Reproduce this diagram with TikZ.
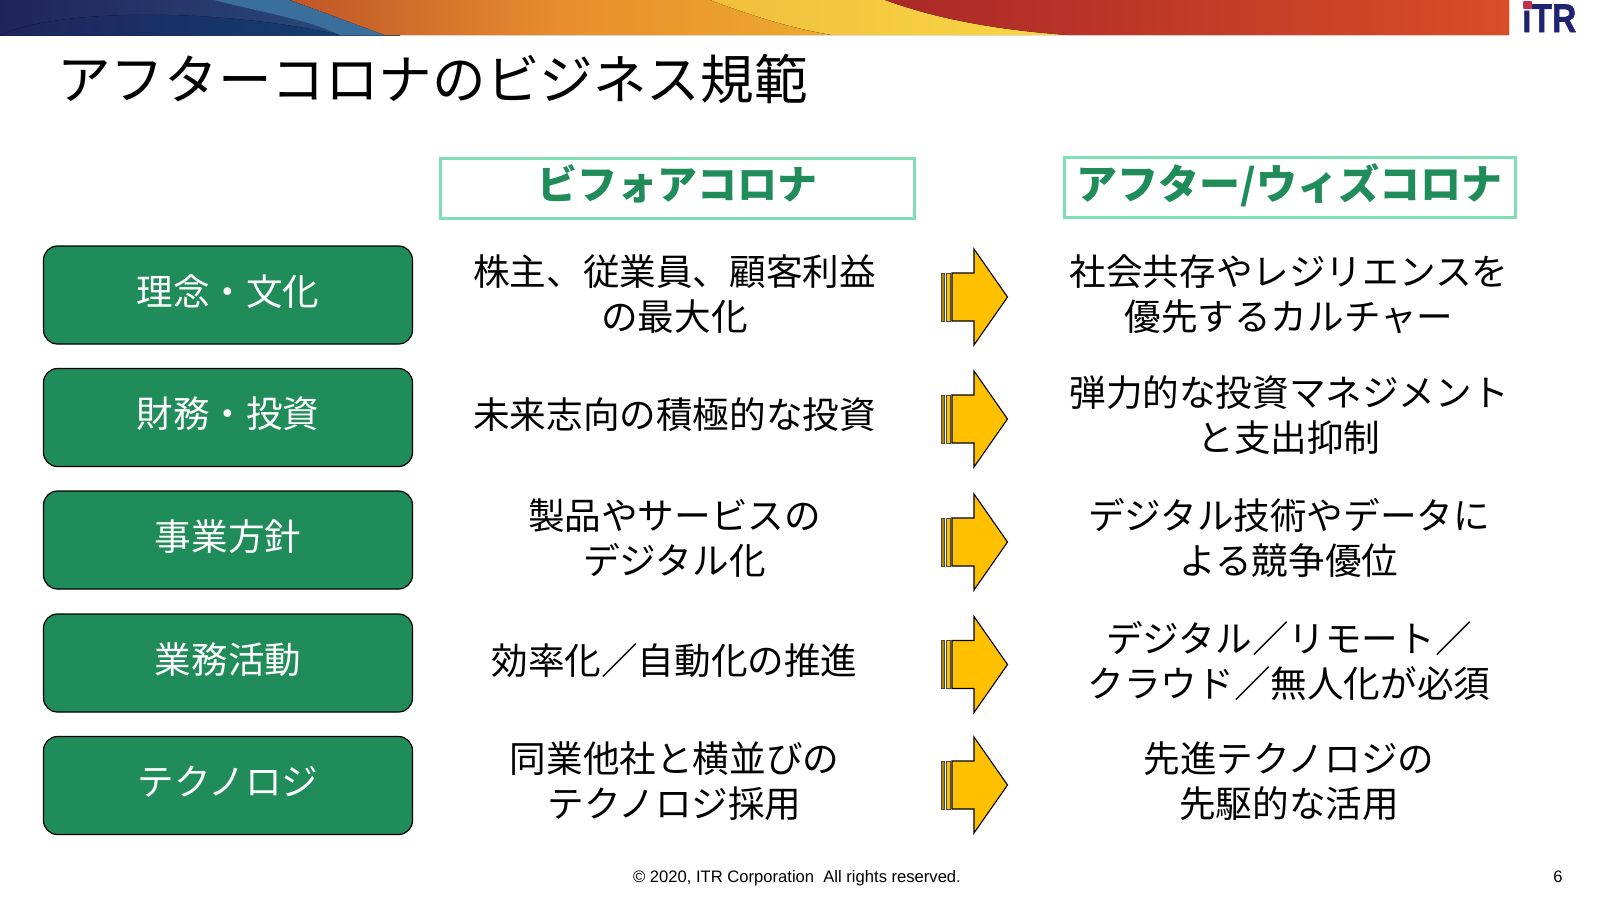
\documentclass[tikz,border=0pt]{standalone}
\usepackage{fontspec}
\setmainfont{Noto Sans CJK JP}
\newfontfamily\arialfont{Liberation Sans}
\newfontfamily\logofont{Liberation Sans}[BoldFeatures={FakeBold=1.5}]
\usetikzlibrary{arrows.meta, positioning, shapes.symbols}

\definecolor{rowgreen}{HTML}{1F8C5A}
\definecolor{headgreen}{HTML}{7FDFB4}
\definecolor{arrowgold}{HTML}{FFC000}
\definecolor{logonavy}{HTML}{20236F}
\definecolor{logored}{HTML}{BE3250}
\definecolor{navyleft}{HTML}{1F245C}
\definecolor{navyright}{HTML}{2C4F80}
\definecolor{navydeep}{HTML}{123E70}
\definecolor{wedgeblue}{HTML}{3A6E9B}
\definecolor{orangeleft}{HTML}{BE5528}
\definecolor{orangemid}{HTML}{E88E2D}
\definecolor{orangeright}{HTML}{ECAA2D}
\definecolor{yellowleft}{HTML}{F0BE3C}
\definecolor{yellowright}{HTML}{F8D746}
\definecolor{redleft}{HTML}{AA2828}
\definecolor{redright}{HTML}{D94E26}

\tikzset{
	rowbox/.style={draw=black,fill=rowgreen,line width=1.2pt,rounded corners=14pt,minimum width=369pt,minimum height=98pt,text=white,font=\fontsize{36.6}{44}\selectfont},
	headbox/.style={draw=headgreen,line width=3pt},
	headtext/.style={inner sep=0pt,text=rowgreen,font=\fontsize{40}{48}\selectfont\bfseries},
	bodytext/.style={align=center,inner sep=0pt,font=\fontsize{36.6}{45}\selectfont},
	footertext/.style={inner sep=0pt,anchor=base,font=\arialfont\fontsize{16.6}{20}\selectfont},
	pics/stripedarrow/.style={code={
		\draw[black,line width=1.1pt,fill=arrowgold,line join=miter] (-22,-24) -- (0,-24) -- (0,-48) -- (33.5,0) -- (0,48) -- (0,24) -- (-22,24) -- cycle;
		\draw[black!70,line width=0.7pt,fill=arrowgold!70!black] (-33,-24) rectangle (-29.5,24);
		\draw[black!70,line width=0.7pt,fill=arrowgold] (-28,-24) rectangle (-24,24);
	}}
}

\begin{document}
\begin{tikzpicture}[x=1pt,y=-1pt]
	\useasboundingbox (0,0) rectangle (1600,900);

	% banner
	\fill[left color=navyleft,right color=navyright] (0,0) rectangle (400,35);
	\fill[left color=navyleft,right color=navydeep] (0,35) .. controls (60,8) and (220,8) .. (340,35) -- cycle;
	\fill[wedgeblue] (214,0) -- (290,0) -- (385,35) -- (340,35) .. controls (310,20) and (260,12) .. (214,0) -- cycle;
	\fill[left color=orangeleft,right color=orangeright,middle color=orangemid] (290,0) -- (720,0) .. controls (750,15) and (790,28) .. (832,35) -- (385,35) -- cycle;
	\fill[left color=yellowleft,right color=yellowright] (710,0) -- (890,0) .. controls (940,20) and (1000,30) .. (1068,35) -- (832,35) .. controls (790,28) and (750,15) .. (710,0) -- cycle;
	\fill[left color=redleft,right color=redright] (885,0) -- (1509,0) -- (1509,35) -- (1068,35) .. controls (1000,30) and (940,20) .. (885,0) -- cycle;

	% logo
	\node[inner sep=0pt,anchor=base west,text=logonavy,xscale=0.84,font=\logofont\fontsize{40}{40}\selectfont\bfseries] (logo) at (1522,32) {ıTR};
	\fill[logored,rounded corners=1pt] (1523,1) rectangle (1532,9);

	\node[anchor=west,inner sep=0pt,font=\fontsize{53.6}{60}\selectfont] (title) at (57,79) {アフターコロナのビジネス規範};

	\node[headbox,minimum width=474pt,minimum height=60pt] (before) at (677,188) {};
	\node[headbox,minimum width=451pt,minimum height=60pt] (after) at (1289.5,187) {};
	\node[headtext] (beforelabel) at (677,184) {ビフォアコロナ};
	\node[headtext,font=\fontsize{41}{48}\selectfont\bfseries] (afterlabel) at (1289.5,185) {アフター/ウィズコロナ};

	\node[rowbox] (rowa) at (228,295) {\raisebox{10pt}{理念・文化}};
	\node[rowbox] (rowb) at (228,417.5) {\raisebox{10pt}{財務・投資}};
	\node[rowbox] (rowc) at (228,540) {\raisebox{10pt}{事業方針}};
	\node[rowbox] (rowd) at (228,663) {\raisebox{10pt}{業務活動}};
	\node[rowbox] (rowe) at (228,785.5) {\raisebox{10pt}{テクノロジ}};

	\node[bodytext] (beforea) at (674.5,294) {株主、従業員、顧客利益\\の最大化};
	\node[bodytext] (beforeb) at (674.5,415) {未来志向の積極的な投資};
	\node[bodytext] (beforec) at (674.5,538) {製品やサービスの\\デジタル化};
	\node[bodytext] (befored) at (674.5,661) {効率化／自動化の推進};
	\node[bodytext] (beforee) at (674.5,781) {同業他社と横並びの\\テクノロジ採用};

	\pic at (974,297) {stripedarrow};
	\pic at (974,419) {stripedarrow};
	\pic at (974,542) {stripedarrow};
	\pic at (974,664.5) {stripedarrow};
	\pic at (974,785) {stripedarrow};

	\node[bodytext] (aftera) at (1289,294) {社会共存やレジリエンスを\\優先するカルチャー};
	\node[bodytext] (afterb) at (1289,415) {弾力的な投資マネジメント\\と支出抑制};
	\node[bodytext] (afterc) at (1289,538) {デジタル技術やデータに\\よる競争優位};
	\node[bodytext] (afterd) at (1289,661) {デジタル／リモート／\\クラウド／無人化が必須};
	\node[bodytext] (aftere) at (1289,781) {先進テクノロジの\\先駆的な活用};

	\node[footertext] (footer) at (797,882) {© 2020, ITR Corporation\ \ All rights reserved.};
	\node[footertext] (pagenum) at (1558,882) {6};
\end{tikzpicture}
\end{document}
